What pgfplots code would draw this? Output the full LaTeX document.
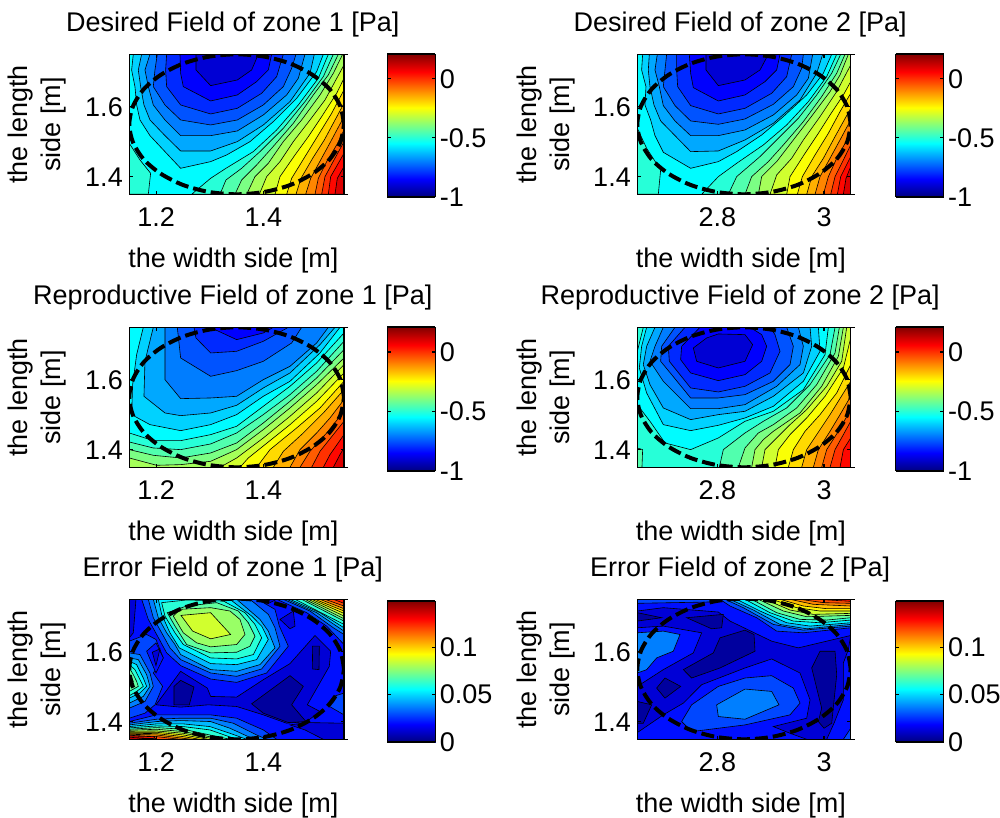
\documentclass[border=0pt]{standalone}
\usepackage{fontspec}
\setmainfont{Liberation Sans}
\usepackage{pgfplots}
\pgfplotsset{compat=1.18}
\globalcolorstrue
\newcommand\mkjet[3]{%
\pgfmathsetmacro\vr{max(0,min(1,min(4*#3-1.5,-4*#3+4.5)))}%
\pgfmathsetmacro\vg{max(0,min(1,min(4*#3-0.5,-4*#3+3.5)))}%
\pgfmathsetmacro\vb{max(0,min(1,min(4*#3+0.5,-4*#3+2.5)))}%
\edef\tmp{\noexpand\definecolor{#1#2}{rgb}{\vr,\vg,\vb}}\tmp}
\foreach \k in {0,...,21}{\pgfmathsetmacro\tv{(0.1+0.05*\k)/1.21}\mkjet{A}{\k}{\tv}}
\foreach \k in {0,...,17}{\pgfmathsetmacro\tv{0.03+0.055*\k}\mkjet{E}{\k}{\tv}}
\newcommand\pg[2]{\addplot[fill=#1,draw=black,line width=0.6pt] coordinates {#2} --cycle;}
\newcommand\ellp[1]{\addplot[black,line width=4pt,dash pattern=on 13pt off 5pt,smooth,#1] coordinates {(672,238)(661,184)(629,133)(578,90)(511,56)(433,35)(350,28)(267,35)(189,56)(122,90)(71,133)(39,184)(28,238)(39,292)(71,343)(122,386)(189,420)(267,441)(350,448)(433,441)(511,420)(578,386)(629,343)(661,292)(672,238)};}
\pgfplotsset{
 every axis/.append style={font=\fontsize{27}{33}\selectfont},
 base/.style={scale only axis,axis on top,axis line style={line width=1.5pt},
   tick style={black,line width=1.1pt},major tick length=3.5pt,tick align=inside,
   enlargelimits=false},
 main/.style={base,height=140pt,
   ymin=1.35,ymax=1.75,ytick={1.4,1.6},yticklabels={1.4,1.6},
   title style={at={(axis description cs:0.482,1.17)},anchor=center},
   every axis x label/.style={at={(axis description cs:0.485,-0.47)},anchor=center},
   every axis y label/.style={at={(axis description cs:-0.43,0.5)},anchor=center,rotate=90,align=center},
   xlabel={the width side [m]},ylabel={the length\\side [m]},
   ticklabel style={font=\fontsize{27}{30}\selectfont},
   xticklabel style={yshift=-10pt},yticklabel style={xshift=-3pt},
   extra y ticks={1.35,1.75},extra y tick labels={,},
   extra y tick style={ytick pos=right,tick align=outside,major tick length=4pt}},
 c1/.style={width=214.7pt,xmin=1.15,xmax=1.55,xtick={1.2,1.4},xticklabels={1.2,1.4},
   x filter/.expression={1.15+(x-28)/644*0.4}},
 c2/.style={width=213.4pt,xmin=2.65,xmax=3.05,xtick={2.8,3},xticklabels={2.8,3},
   x filter/.expression={2.65+(x-22)/640*0.4}},
 r12/.style={y filter/.expression={1.75-(y-28)/420*0.4}},
 r3/.style={y filter/.expression={1.75-(y-30)/418*0.4}},
 cb/.style={base,width=48pt,xmin=0,xmax=1,xtick=\empty,view={0}{90},
   ytick pos=both,yticklabel pos=right,colormap/jet,
   ticklabel style={font=\fontsize{27}{30}\selectfont},yticklabel style={xshift=1pt}},
}
\newcommand\cbA[3]{\begin{axis}[cb,at={(#1pt,#2pt)},anchor=south west,height=#3pt,ymin=-1,ymax=0.21,
  ytick={-1,-0.5,0},yticklabels={-1,-0.5,0}]
 \addplot3[surf,shader=interp,mesh/cols=2,point meta=y] coordinates {(0,-1,0)(1,-1,0)(0,0.21,0)(1,0.21,0)};
 \end{axis}}
\newcommand\cbE[3]{\begin{axis}[cb,at={(#1pt,#2pt)},anchor=south west,height=#3pt,ymin=0,ymax=0.149,
  ytick={0,0.05,0.1},yticklabels={0,0.05,0.1}]
 \addplot3[surf,shader=interp,mesh/cols=2,point meta=y] coordinates {(0,0,0)(1,0,0)(0,0.149,0)(1,0.149,0)};
 \end{axis}}
\begin{document}
\begin{tikzpicture}
\path[use as bounding box] (0,0) rectangle (1000pt,817pt);
% ---------- panel 1
\begin{axis}[main,c1,r12,at={(129.3pt,622.7pt)},anchor=south west,title={Desired Field of zone 1 [Pa]}]
\pg{A7}{(28,28)(672,28)(672,448)(28,448)}
\pg{A8}{(28,295)(60,345)(92,385)(85,448)(28,448)}
\pg{A6}{(40,28)(35,75)(45,125)(50,180)(60,225)(90,272)(135,320)(182,370)(272,350)(320,330)(390,290)(460,230)(530,160)(590,80)(610,28)}
\pg{A5}{(65,28)(55,75)(62,125)(72,180)(90,225)(135,272)(182,318)(272,318)(352,290)(430,240)(510,170)(570,85)(583,28)}
\pg{A4}{(90,28)(75,75)(85,125)(100,180)(135,225)(182,272)(272,272)(352,258)(430,210)(500,150)(535,100)(555,28)}
\pg{A3}{(112,28)(105,75)(100,125)(135,180)(182,225)(272,240)(352,225)(430,180)(490,125)(515,70)(528,28)}
\pg{A2}{(140,28)(137,75)(140,125)(182,180)(272,207)(352,190)(425,145)(470,95)(490,28)}
\pg{A1}{(180,28)(182,85)(190,125)(272,168)(352,150)(410,110)(445,75)(455,28)}
\pg{A0}{(228,28)(228,75)(272,122)(352,105)(395,75)(415,28)}
\pg{A8}{(215,448)(272,400)(318,370)(400,320)(470,255)(535,180)(595,100)(625,28)(672,28)(672,448)}
\pg{A9}{(300,448)(318,405)(365,370)(420,320)(490,250)(555,170)(610,95)(640,28)(672,28)(672,448)}
\pg{A10}{(345,448)(365,405)(410,360)(455,310)(520,235)(580,150)(625,90)(655,28)(672,28)(672,448)}
\pg{A11}{(380,448)(405,395)(445,355)(490,290)(545,225)(600,150)(640,85)(668,28)(672,28)(672,448)}
\pg{A12}{(418,448)(440,395)(480,350)(520,290)(570,225)(615,165)(672,60)(672,448)}
\pg{A13}{(465,448)(480,395)(525,330)(565,275)(605,215)(650,145)(672,100)(672,448)}
\pg{A14}{(500,448)(515,400)(555,335)(595,270)(635,205)(672,135)(672,448)}
\pg{A15}{(528,448)(543,400)(578,340)(613,285)(672,175)(672,448)}
\pg{A16}{(557,448)(572,400)(602,345)(632,290)(672,215)(672,448)}
\pg{A17}{(585,448)(595,400)(620,350)(650,300)(672,255)(672,448)}
\pg{A18}{(605,448)(615,395)(642,345)(672,290)(672,448)}
\pg{A19}{(625,448)(632,395)(672,325)(672,448)}
\pg{A20}{(645,448)(652,400)(672,365)(672,448)}
\ellp{}
\end{axis}
\cbA{387.3}{620}{143}
% ---------- panel 2
\begin{axis}[main,c2,r12,at={(637.3pt,622.7pt)},anchor=south west,title={Desired Field of zone 2 [Pa]}]
\pg{A7}{(22,28)(662,28)(662,448)(22,448)}
\pg{A8}{(22,250)(50,310)(92,375)(85,448)(22,448)}
\pg{A6}{(38,28)(35,75)(48,125)(45,180)(62,225)(75,272)(100,322)(182,370)(265,350)(320,320)(395,270)(460,215)(530,150)(580,85)(605,28)}
\pg{A5}{(58,28)(55,75)(60,125)(72,180)(92,228)(135,272)(182,320)(265,318)(345,285)(430,235)(510,165)(560,85)(578,28)}
\pg{A4}{(82,28)(75,75)(88,125)(100,182)(135,228)(182,272)(265,272)(345,255)(430,210)(500,150)(535,100)(548,28)}
\pg{A3}{(110,28)(105,75)(100,125)(135,182)(182,228)(265,238)(345,222)(430,178)(490,125)(515,70)(520,28)}
\pg{A2}{(140,28)(140,75)(143,125)(182,182)(265,207)(345,190)(425,145)(470,95)(485,28)}
\pg{A1}{(178,28)(182,85)(190,128)(265,168)(345,150)(405,110)(440,75)(450,28)}
\pg{A0}{(228,28)(228,75)(265,122)(345,105)(390,75)(415,28)}
\pg{A8}{(215,448)(265,395)(320,355)(400,300)(470,240)(535,170)(590,95)(620,28)(662,28)(662,448)}
\pg{A9}{(295,448)(320,395)(390,335)(440,285)(505,220)(560,150)(605,85)(632,28)(662,28)(662,448)}
\pg{A10}{(345,448)(365,395)(415,350)(460,300)(520,230)(575,155)(620,85)(645,28)(662,28)(662,448)}
\pg{A11}{(385,448)(395,395)(440,350)(490,285)(540,220)(600,140)(630,90)(655,28)(662,28)(662,448)}
\pg{A12}{(420,448)(440,390)(485,340)(520,285)(570,215)(620,140)(662,60)(662,448)}
\pg{A13}{(470,448)(480,395)(525,325)(565,265)(600,210)(640,150)(662,110)(662,448)}
\pg{A14}{(502,448)(517,395)(555,330)(595,265)(630,200)(662,145)(662,448)}
\pg{A15}{(530,448)(545,395)(580,340)(615,275)(662,190)(662,448)}
\pg{A16}{(555,448)(570,395)(600,340)(630,285)(662,225)(662,448)}
\pg{A17}{(580,448)(595,395)(620,340)(662,265)(662,448)}
\pg{A18}{(602,448)(615,395)(640,345)(662,300)(662,448)}
\pg{A19}{(622,448)(632,395)(662,335)(662,448)}
\pg{A20}{(640,448)(648,400)(662,365)(662,448)}
\ellp{x filter/.expression={2.65+(x-28)/644*0.4}}
\end{axis}
\cbA{895.5}{620}{143}
% ---------- panel 3
\begin{axis}[main,c1,r12,at={(129.3pt,349.7pt)},anchor=south west,title={Reproductive Field of zone 1 [Pa]}]
\pg{A7}{(28,28)(672,28)(672,448)(28,448)}
\pg{A6}{(70,28)(50,110)(38,200)(35,290)(90,320)(182,338)(272,320)(350,290)(430,235)(510,190)(600,105)(660,28)}
\pg{A5}{(100,28)(75,130)(72,235)(135,285)(182,293)(272,285)(350,262)(430,210)(510,165)(600,80)(645,28)}
\pg{A4}{(135,28)(135,185)(182,242)(272,240)(350,235)(430,185)(510,145)(590,75)(625,28)}
\pg{A3}{(172,28)(182,120)(272,175)(350,158)(430,130)(515,75)(545,28)}
\pg{A2}{(222,28)(228,60)(272,105)(350,100)(430,70)(505,28)}
\pg{A1}{(270,28)(350,65)(430,45)(460,28)}
\pg{A8}{(28,345)(100,368)(182,368)(272,350)(350,325)(430,265)(510,205)(590,135)(672,45)(672,448)(28,448)}
\pg{A9}{(28,372)(100,390)(182,395)(272,378)(350,345)(430,290)(510,230)(590,160)(672,70)(672,448)(28,448)}
\pg{A10}{(28,395)(100,412)(182,420)(272,405)(350,375)(430,315)(510,250)(590,180)(672,95)(672,448)(28,448)}
\pg{A11}{(28,420)(110,442)(182,440)(272,430)(350,395)(430,335)(510,270)(590,200)(672,120)(672,448)(28,448)}
\pg{A12}{(300,448)(350,420)(430,360)(510,295)(590,225)(672,140)(672,448)}
\pg{A13}{(360,448)(385,420)(435,380)(510,320)(590,250)(672,165)(672,448)}
\pg{A14}{(410,448)(450,395)(530,330)(600,270)(672,190)(672,448)}
\pg{A15}{(460,448)(490,400)(550,345)(610,285)(672,215)(672,448)}
\pg{A16}{(510,448)(540,395)(590,345)(630,300)(672,245)(672,448)}
\pg{A17}{(540,448)(570,400)(620,345)(672,280)(672,448)}
\pg{A18}{(575,448)(600,400)(640,350)(672,310)(672,448)}
\pg{A19}{(610,448)(630,410)(672,350)(672,448)}
\pg{A20}{(640,448)(660,410)(672,390)(672,448)}
\ellp{}
\end{axis}
\cbA{387.3}{346}{144}
% ---------- panel 4
\begin{axis}[main,c2,r12,at={(637.3pt,349.7pt)},anchor=south west,title={Reproductive Field of zone 2 [Pa]}]
\pg{A8}{(22,28)(662,28)(662,448)(22,448)}
\pg{A9}{(22,390)(38,395)(36,448)(22,448)}
\pg{A7}{(40,28)(22,100)(22,260)(60,310)(105,375)(182,395)(265,360)(345,310)(430,280)(520,215)(585,110)(595,28)}
\pg{A6}{(50,28)(35,85)(28,150)(50,225)(100,320)(182,338)(265,322)(345,300)(430,265)(520,190)(570,100)(565,28)}
\pg{A5}{(75,28)(50,85)(40,140)(60,200)(100,270)(182,305)(265,290)(345,280)(430,235)(520,165)(545,85)(540,28)}
\pg{A4}{(100,28)(75,85)(60,130)(100,190)(182,272)(265,272)(345,260)(440,205)(510,140)(520,85)(505,28)}
\pg{A3}{(135,28)(95,85)(92,130)(125,170)(182,240)(265,240)(345,230)(430,190)(480,140)(490,85)(470,28)}
\pg{A2}{(165,28)(115,85)(118,130)(182,210)(265,222)(345,205)(420,165)(450,100)(435,50)(420,28)}
\pg{A1}{(210,28)(155,85)(152,125)(182,165)(265,188)(345,170)(395,130)(410,85)(395,50)(360,28)}
\pg{A0}{(190,90)(230,60)(265,48)(345,50)(368,80)(345,130)(265,150)(200,130)}
\pg{A9}{(268,448)(280,395)(345,345)(400,310)(470,270)(540,200)(600,110)(615,28)(662,28)(662,448)}
\pg{A10}{(325,448)(345,390)(385,345)(430,320)(500,270)(560,200)(615,105)(628,28)(662,28)(662,448)}
\pg{A11}{(365,448)(375,395)(400,365)(430,340)(510,285)(575,205)(625,115)(640,28)(662,28)(662,448)}
\pg{A12}{(395,448)(405,395)(435,365)(480,320)(530,275)(590,205)(635,130)(650,28)(662,28)(662,448)}
\pg{A13}{(435,448)(445,395)(480,350)(530,300)(585,235)(640,150)(662,60)(662,448)}
\pg{A14}{(475,448)(490,395)(525,340)(570,290)(620,225)(662,140)(662,448)}
\pg{A15}{(515,448)(530,395)(560,350)(600,290)(662,190)(662,448)}
\pg{A16}{(550,448)(565,395)(600,340)(630,290)(662,235)(662,448)}
\pg{A17}{(575,448)(590,395)(625,340)(662,275)(662,448)}
\pg{A18}{(600,448)(615,395)(640,350)(662,310)(662,448)}
\pg{A19}{(630,448)(640,395)(662,360)(662,448)}
\ellp{x filter/.expression={2.65+(x-28)/644*0.4}}
\end{axis}
\cbA{895.5}{346}{144}
% ---------- panel 5
\begin{axis}[main,c1,r3,at={(129.3pt,77.7pt)},anchor=south west,title={Error Field of zone 1 [Pa]}]
\pg{E2}{(28,30)(672,30)(672,448)(28,448)}
\pg{E1}{(28,30)(48,30)(40,130)(28,145)}
\pg{E1}{(420,30)(440,45)(470,30)}
\pg{E1}{(108,345)(182,245)(262,295)(272,320)(350,322)(430,270)(510,222)(585,138)(632,185)(628,230)(562,345)(600,365)(560,395)(500,400)(430,375)(350,350)(265,345)(182,352)}
\pg{E0}{(162,290)(182,272)(222,292)(208,345)(162,345)}
\pg{E0}{(395,342)(510,258)(550,290)(515,345)(558,395)(505,398)(430,370)}
\pg{E0}{(577,170)(598,170)(597,240)(578,238)}
\pg{E1}{(510,405)(560,398)(672,400)(672,448)(610,448)(555,420)}
\pg{E3}{(672,310)(640,320)(620,345)(672,375)}
\pg{E3}{(28,155)(80,135)(108,150)(130,205)(100,250)(128,290)(105,345)(75,370)(28,385)}
\pg{E2}{(80,185)(108,160)(130,205)(108,250)}
\pg{E1}{(97,188)(120,178)(108,228)}
\pg{E4}{(28,190)(60,195)(90,250)(100,290)(75,335)(28,355)}
\pg{E5}{(28,205)(55,210)(80,255)(90,290)(70,320)(28,340)}
\pg{E6}{(28,215)(50,225)(70,265)(80,290)(60,310)(28,325)}
\pg{E7}{(28,225)(45,240)(60,270)(70,290)(50,305)(28,318)}
\pg{E8}{(28,235)(40,255)(50,275)(55,290)(28,305)}
\pg{E9}{(28,250)(40,275)(28,295)}
\pg{E3}{(65,30)(85,90)(110,135)(140,190)(182,228)(272,268)(350,278)(440,250)(505,170)(478,110)(465,60)(430,40)(420,30)}
\pg{E4}{(85,30)(100,85)(125,130)(150,175)(182,210)(272,250)(350,260)(425,238)(480,170)(465,115)(445,75)(390,30)}
\pg{E5}{(100,30)(115,85)(140,130)(165,165)(182,195)(272,240)(350,245)(420,225)(465,175)(445,125)(420,90)(350,30)}
\pg{E6}{(115,30)(125,75)(150,130)(178,175)(272,222)(350,225)(410,210)(445,150)(425,110)(395,80)(330,30)}
\pg{E7}{(125,40)(135,80)(165,130)(190,165)(272,205)(350,208)(400,195)(425,145)(405,105)(375,70)(310,35)(200,32)}
\pg{E8}{(142,70)(165,110)(200,165)(272,190)(350,188)(390,170)(405,140)(385,100)(355,65)(290,40)(200,50)}
\pg{E9}{(160,80)(190,130)(230,160)(272,172)(350,165)(375,135)(360,90)(330,65)(272,55)(180,60)}
\pg{E10}{(183,78)(272,70)(332,135)(272,148)(218,125)}
\pg{E1}{(480,90)(520,65)(525,110)(510,118)}
\pg{E3}{(470,30)(560,70)(620,110)(672,165)(672,30)}
\pg{E4}{(490,30)(570,65)(640,115)(672,135)(672,30)}
\pg{E5}{(500,30)(590,70)(672,125)(672,30)}
\pg{E6}{(510,30)(600,70)(672,115)(672,30)}
\pg{E7}{(525,30)(672,105)(672,30)}
\pg{E8}{(545,30)(672,95)(672,30)}
\pg{E9}{(555,30)(672,88)(672,30)}
\pg{E10}{(565,30)(672,80)(672,30)}
\pg{E11}{(575,30)(672,72)(672,30)}
\pg{E12}{(585,30)(672,65)(672,30)}
\pg{E13}{(600,30)(672,58)(672,30)}
\pg{E14}{(615,30)(672,50)(672,30)}
\pg{E15}{(640,30)(672,42)(672,30)}
\pg{E3}{(28,395)(110,375)(182,375)(272,375)(350,385)(430,420)(470,448)(28,448)}
\pg{E4}{(28,400)(110,388)(182,385)(272,385)(340,400)(410,435)(440,448)(28,448)}
\pg{E5}{(28,405)(110,395)(182,392)(272,395)(330,415)(385,440)(410,448)(28,448)}
\pg{E6}{(28,410)(110,402)(190,402)(270,410)(330,430)(380,448)(28,448)}
\pg{E7}{(28,414)(110,408)(190,410)(270,420)(350,448)(28,448)}
\pg{E8}{(28,418)(110,413)(190,418)(330,448)(28,448)}
\pg{E9}{(28,421)(110,418)(190,425)(310,448)(28,448)}
\pg{E10}{(28,424)(110,423)(190,430)(290,448)(28,448)}
\pg{E11}{(28,427)(110,427)(190,435)(265,448)(28,448)}
\pg{E12}{(28,430)(110,431)(190,440)(240,448)(28,448)}
\pg{E13}{(28,433)(110,435)(190,445)(215,448)(28,448)}
\pg{E14}{(28,436)(110,440)(180,448)(28,448)}
\pg{E15}{(28,438)(100,440)(110,448)(28,448)}
\pg{E16}{(28,442)(105,446)(28,448)}
\ellp{}
\end{axis}
\cbE{387.3}{75}{141}
% ---------- panel 6
\begin{axis}[main,c2,r3,at={(637.3pt,77.7pt)},anchor=south west,title={Error Field of zone 2 [Pa]}]
\pg{E2}{(22,30)(662,30)(662,448)(22,448)}
\pg{E1}{(22,65)(100,55)(265,68)(300,95)(425,155)(505,175)(662,138)(655,180)(640,220)(640,330)(612,400)(590,448)(530,448)(22,448)}
\pg{E0}{(160,240)(250,190)(270,145)(345,122)(372,135)(375,185)(270,235)(185,265)}
\pg{E0}{(80,295)(105,265)(152,290)(105,325)}
\pg{E0}{(545,235)(570,185)(615,185)(620,255)(605,400)(582,415)(565,395)(575,355)}
\pg{E0}{(170,85)(280,75)(275,115)(245,118)}
\pg{E0}{(22,70)(95,85)(22,95)}
\pg{E0}{(22,335)(65,345)(40,400)(22,400)}
\pg{E2}{(22,115)(100,110)(215,130)(190,190)(100,240)(22,290)}
\pg{E4}{(22,130)(100,125)(150,135)(130,185)(80,205)(50,240)(22,250)}
\pg{E2}{(22,428)(100,375)(160,340)(215,285)(345,235)(425,208)(510,250)(540,330)(530,385)(430,410)(480,430)(530,448)(22,448)}
\pg{E3}{(155,395)(185,345)(265,290)(345,265)(425,258)(490,295)(510,340)(480,375)(345,405)(185,425)}
\pg{E4}{(260,345)(345,298)(425,305)(447,345)(345,388)(265,380)}
\pg{E3}{(640,448)(662,415)(662,448)}
\pg{E3}{(22,30)(22,42)(240,38)(260,30)}
\pg{E3}{(270,30)(300,50)(380,85)(440,125)(520,130)(662,115)(662,30)}
\pg{E4}{(285,30)(340,55)(430,105)(520,122)(662,110)(662,30)}
\pg{E5}{(300,30)(370,62)(450,105)(530,118)(662,105)(662,30)}
\pg{E6}{(320,30)(390,65)(470,100)(540,110)(662,100)(662,30)}
\pg{E7}{(345,30)(420,70)(490,95)(570,100)(662,92)(662,30)}
\pg{E8}{(365,30)(440,70)(510,90)(590,92)(662,85)(662,30)}
\pg{E9}{(385,30)(460,65)(530,82)(662,78)(662,30)}
\pg{E10}{(405,30)(480,62)(550,75)(662,72)(662,30)}
\pg{E11}{(425,30)(500,55)(570,65)(662,65)(662,30)}
\pg{E12}{(450,30)(520,50)(590,58)(662,58)(662,30)}
\pg{E13}{(480,30)(550,45)(662,50)(662,30)}
\pg{E14}{(510,30)(580,40)(662,42)(662,30)}
\pg{E15}{(560,30)(662,36)(662,30)}
\ellp{x filter/.expression={2.65+(x-28)/644*0.4}}
\end{axis}
\cbE{895.5}{75}{141}
\end{tikzpicture}
\end{document}
